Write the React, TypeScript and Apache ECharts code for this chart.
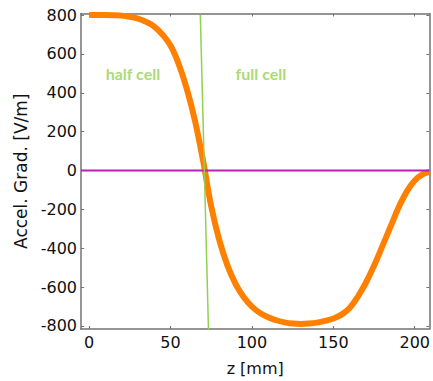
import React, { useEffect, useRef } from "react";
import * as echarts from "echarts";

// Field profile: z [mm] and accelerating gradient [V/m]
const zValues = [0, 5, 10, 15, 20, 25, 30, 35, 40, 45, 50, 55, 60, 65, 70, 75, 80, 85, 90, 95, 100, 105, 110, 115, 120, 125, 130, 135, 140, 145, 150, 155, 160, 165, 170, 175, 180, 185, 190, 195, 200, 205, 209];
const gradValues = [800, 800, 800, 799, 797, 791, 782, 765, 741, 700, 643, 548, 420, 257, 50, -185, -360, -490, -585, -653, -701, -734, -756, -771, -782, -788, -790, -788, -783, -774, -762, -742, -708, -650, -578, -490, -392, -292, -192, -110, -52, -19, -7];

// Green boundary line between half cell and full cell
const boundaryZ = [68.3, 73.3];
const boundaryGrad = [800, -819];

// Zero line
const zeroZ = [-5, 209];
const zeroGrad = [0, 0];

// Annotations
const noteNames = ["half cell", "full cell"];
const noteZ = [26.9, 105.5];
const noteGrad = [501, 498];

const xTicks = [0, 50, 100, 150, 200];
const yTicks = [-800, -600, -400, -200, 0, 200, 400, 600, 800];

export default function App() {
  const ref = useRef<HTMLDivElement>(null);

  useEffect(() => {
    if (!ref.current) return;
    const chart = echarts.init(ref.current, null, { renderer: "svg" });
    const axisColor = "#737373";
    const font = "DejaVu Sans";
    const xBase = {
      type: "value" as const,
      min: -5,
      max: 209,
      splitLine: { show: false },
      axisLine: { show: true, onZero: false, lineStyle: { color: axisColor, width: 1.5 } },
      axisTick: { show: true, inside: true, length: 3, customValues: xTicks, lineStyle: { color: axisColor, width: 1 } },
    };
    const yBase = {
      type: "value" as const,
      min: -816,
      max: 808,
      splitLine: { show: false },
      axisLine: { show: true, onZero: false, lineStyle: { color: axisColor, width: 1.5 } },
      axisTick: { show: true, inside: true, length: 3, customValues: yTicks, lineStyle: { color: axisColor, width: 1 } },
    };
    chart.setOption({
      animation: false,
      backgroundColor: "#ffffff",
      grid: { left: 81, right: 0, top: 13.5, bottom: 50.3, containLabel: false },
      xAxis: [
        {
          ...xBase,
          position: "bottom",
          name: "z [mm]",
          nameLocation: "middle",
          nameGap: 31,
          nameTextStyle: { fontFamily: font, fontSize: 16, color: "#111" },
          axisLabel: { show: true, customValues: xTicks, margin: 5, fontFamily: font, fontSize: 16, color: "#111" },
        },
        {
          ...xBase,
          position: "top",
          axisLabel: { show: false },
        },
      ],
      yAxis: [
        {
          ...yBase,
          position: "left",
          name: "Accel. Grad. [V/m]",
          nameLocation: "middle",
          nameGap: 50,
          nameTextStyle: { fontFamily: font, fontSize: 17, color: "#111" },
          axisLabel: { show: true, customValues: yTicks, margin: 4, fontFamily: font, fontSize: 16, color: "#111" },
        },
        {
          ...yBase,
          position: "right",
          axisLabel: { show: false },
        },
      ],
      series: [
        {
          type: "line",
          data: zValues.map((z, i) => [z, gradValues[i]]),
          smooth: 0.4,
          showSymbol: false,
          lineStyle: { color: "#ff8000", width: 6 },
          z: 2,
        },
        {
          type: "line",
          data: zeroZ.map((z, i) => [z, zeroGrad[i]]),
          showSymbol: false,
          lineStyle: { color: "#b820b8", width: 2 },
          z: 3,
        },
        {
          type: "line",
          data: boundaryZ.map((z, i) => [z, boundaryGrad[i]]),
          showSymbol: false,
          lineStyle: { color: "#92d050", width: 1.5 },
          z: 4,
        },
        {
          type: "scatter",
          symbolSize: 1,
          itemStyle: { color: "rgba(0,0,0,0)" },
          data: noteNames.map((n, i) => ({ name: n, value: [noteZ[i], noteGrad[i]] })),
          label: {
            show: true,
            position: "inside",
            formatter: (p: any) => p.name,
            fontFamily: "Lato",
            fontWeight: "bold",
            fontSize: 16,
            color: "#92d050",
          },
          z: 5,
        },
      ],
    });
    return () => chart.dispose();
  }, []);

  return (
    <div
      ref={ref}
      style={{ position: "fixed", left: 0, top: 0, width: 433, height: 381, background: "#fff" }}
    />
  );
}
